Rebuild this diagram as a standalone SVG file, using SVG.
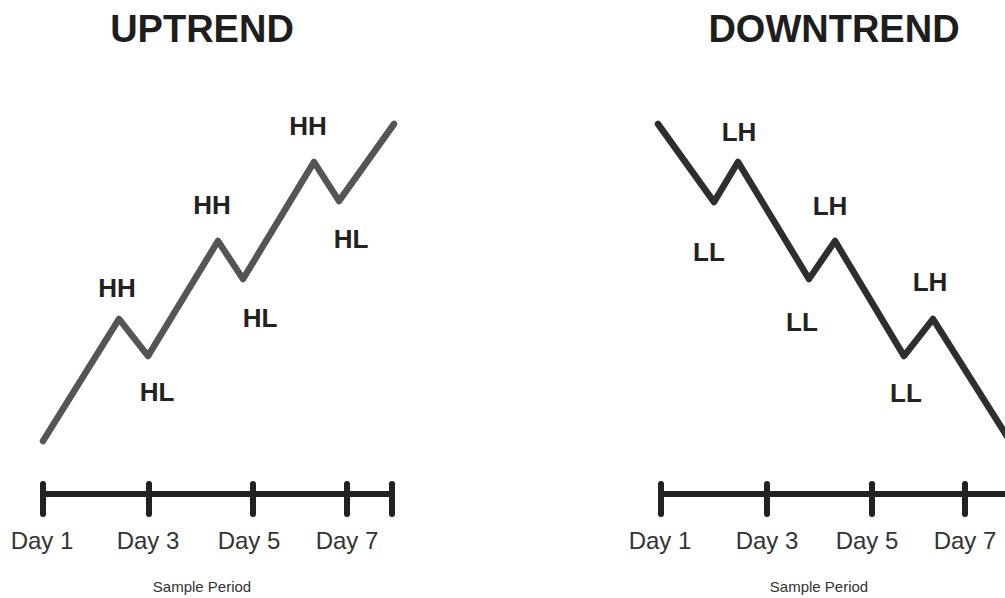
<svg xmlns="http://www.w3.org/2000/svg" width="1005" height="598" viewBox="0 0 1005 598">
<style>
.title{font-family:"Liberation Sans",Arial,sans-serif;font-weight:bold;font-size:38px;fill:#1e1e1e;text-anchor:middle}
.lbl{font-family:"Liberation Sans",Arial,sans-serif;font-weight:bold;font-size:26px;fill:#222;text-anchor:middle}
.day{font-family:"Liberation Sans",Arial,sans-serif;font-size:24px;fill:#333;text-anchor:middle}
.sp{font-family:"Liberation Sans",Arial,sans-serif;font-size:15px;fill:#333;text-anchor:middle}
.trend{fill:none;stroke-width:6.5;stroke-linecap:round;stroke-linejoin:round}
.axis{fill:none;stroke:#222;stroke-width:6;stroke-linecap:round}
</style>
<rect width="1005" height="598" fill="#fff"/>
<g id="uptrend">
<text class="title" x="202" y="42">UPTREND</text>
<polyline class="trend" stroke="#555" points="43,441 119,319 148,356 218,241 243,279 314,162 339,201 394,124"/>
<text class="lbl" x="117" y="297">HH</text>
<text class="lbl" x="157" y="401">HL</text>
<text class="lbl" x="212" y="214">HH</text>
<text class="lbl" x="260" y="327">HL</text>
<text class="lbl" x="308" y="135">HH</text>
<text class="lbl" x="351" y="248">HL</text>
</g>
<g id="uptrend-axis">
<line class="axis" x1="43" y1="494" x2="392" y2="494"/>
<line class="axis" x1="43" y1="484" x2="43" y2="514"/>
<line class="axis" x1="149" y1="484" x2="149" y2="514"/>
<line class="axis" x1="253" y1="484" x2="253" y2="514"/>
<line class="axis" x1="347" y1="484" x2="347" y2="514"/>
<line class="axis" x1="392" y1="484" x2="392" y2="514"/>
<text class="day" x="42" y="549">Day 1</text>
<text class="day" x="148" y="549">Day 3</text>
<text class="day" x="249" y="549">Day 5</text>
<text class="day" x="347" y="549">Day 7</text>
<text class="sp" x="202" y="592">Sample Period</text>
</g>
<g id="downtrend">
<text class="title" x="834" y="42">DOWNTREND</text>
<polyline class="trend" stroke="#2e2e2e" points="658,124 714,202 738,162 809,279 835,241 904,356 933,319 1010,441"/>
<text class="lbl" x="739" y="141">LH</text>
<text class="lbl" x="709" y="261">LL</text>
<text class="lbl" x="830" y="215">LH</text>
<text class="lbl" x="802" y="331">LL</text>
<text class="lbl" x="930" y="291">LH</text>
<text class="lbl" x="906" y="402">LL</text>
</g>
<g id="downtrend-axis">
<line class="axis" x1="661" y1="494" x2="1010" y2="494"/>
<line class="axis" x1="661" y1="484" x2="661" y2="514"/>
<line class="axis" x1="767" y1="484" x2="767" y2="514"/>
<line class="axis" x1="872" y1="484" x2="872" y2="514"/>
<line class="axis" x1="965" y1="484" x2="965" y2="514"/>
<line class="axis" x1="1010" y1="484" x2="1010" y2="514"/>
<text class="day" x="660" y="549">Day 1</text>
<text class="day" x="767" y="549">Day 3</text>
<text class="day" x="867" y="549">Day 5</text>
<text class="day" x="965" y="549">Day 7</text>
<text class="sp" x="819" y="592">Sample Period</text>
</g>
</svg>
